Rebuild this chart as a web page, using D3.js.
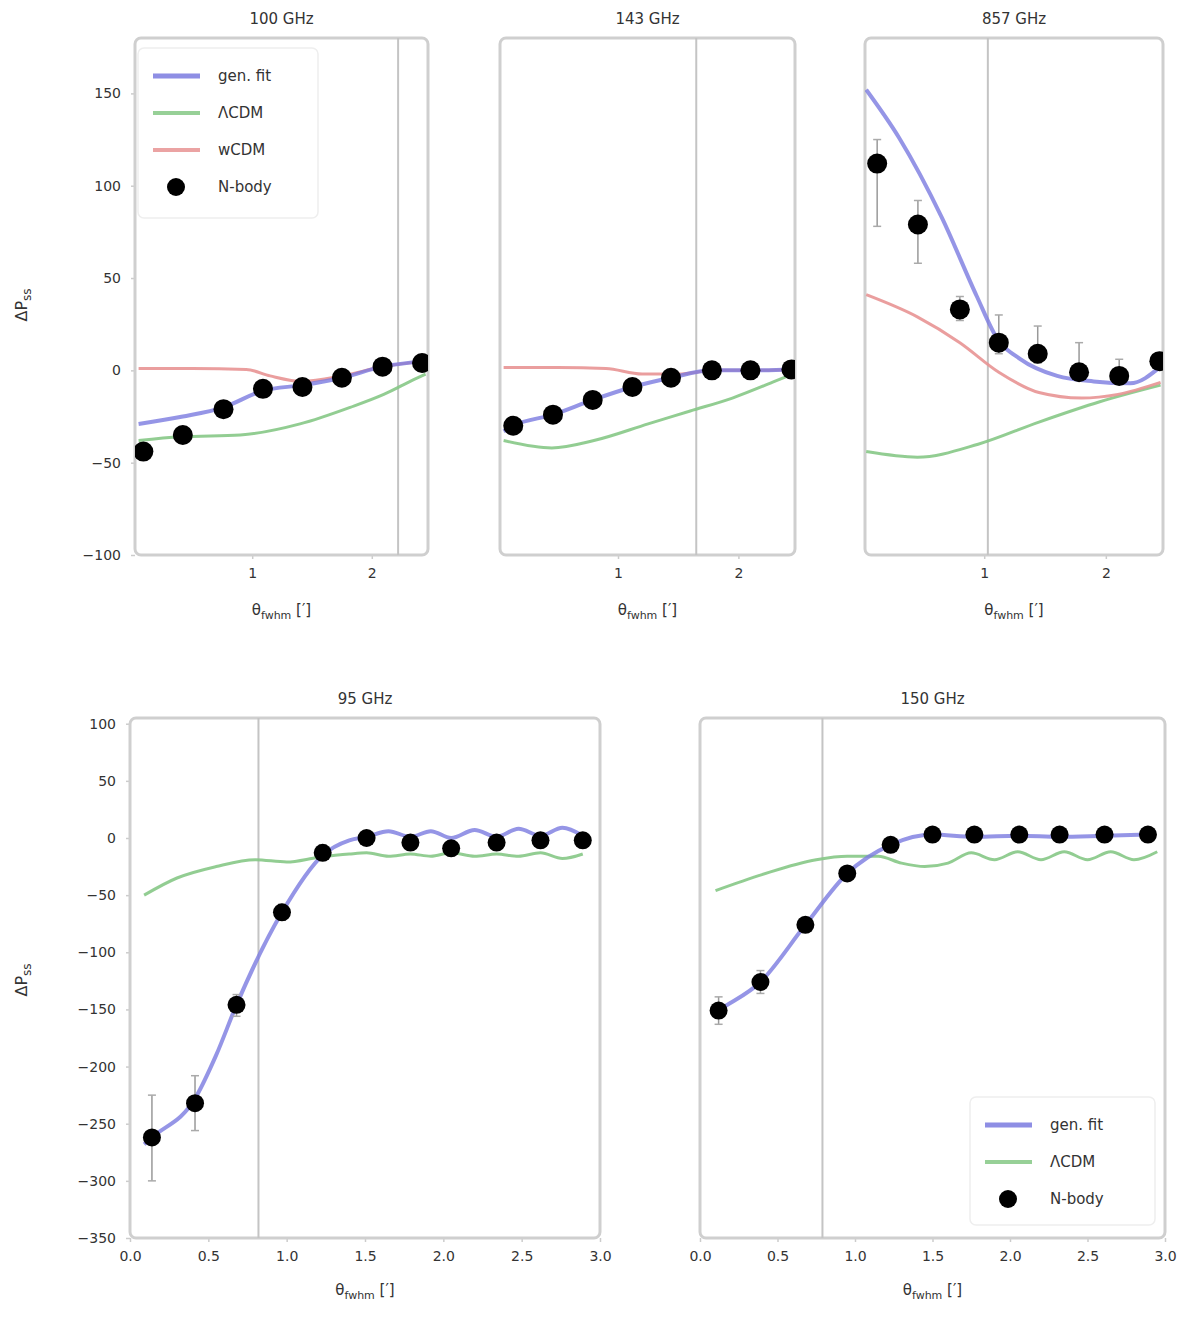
<!DOCTYPE html>
<html>
<head>
<meta charset="utf-8">
<script src="https://cdn.jsdelivr.net/npm/d3@7"></script>
<style>
  body { margin: 0; background: #fff; }
  text { font-family: "DejaVu Sans", sans-serif; fill: #333; }
</style>
</head>
<body>
<div class="chart"></div>
<script>
var svgWidth = 1200;
var svgHeight = 1320;

// ---- data ----
var seriesNames = ["gen. fit", "ΛCDM", "wCDM", "N-body"];
var panelTitles = ["100 GHz", "143 GHz", "857 GHz", "95 GHz", "150 GHz"];
var topYTicks = [150, 100, 50, 0, -50, -100];
var topXTicks = [1, 2];
var bottomYTicks = [100, 50, 0, -50, -100, -150, -200, -250, -300, -350];
var bottomXTicks = [0.0, 0.5, 1.0, 1.5, 2.0, 2.5, 3.0];
var cutX = [2.22, 1.65, 1.03, 0.82, 0.79];

// panel 1
var p1X = [0.09, 0.42, 0.76, 1.09, 1.42, 1.75, 2.09, 2.42];
var p1Y = [-44, -35, -21, -10, -9, -4, 2, 4];
var p1Lo = [-48, -38, -24, -13, -12, -7, -1, 1];
var p1Hi = [-40, -32, -18, -7, -6, -1, 5, 7];
var p1FitX = [0.05, 0.42, 0.76, 1.09, 1.42, 1.75, 2.09, 2.45];
var p1Fit = [-29, -25, -20, -11, -8, -4, 2, 5];
var p1LcdmX = [0.05, 0.4, 0.9, 1.4, 1.82, 2.1, 2.35, 2.45];
var p1Lcdm = [-38, -36, -35, -29, -20, -13, -5, -2];
var p1WX = [0.05, 0.5, 0.95, 1.15, 1.42, 1.75, 2.09, 2.45];
var p1W = [1, 1, 0.5, -3, -6, -3, 2, 5];

// panel 2
var p2X = [0.13, 0.46, 0.79, 1.12, 1.44, 1.78, 2.1, 2.44];
var p2Y = [-30, -24, -16, -9, -4, 0, 0, 0.5];
var p2Lo = [-33, -27, -19, -12, -7, -3, -3, -2.5];
var p2Hi = [-27, -21, -13, -6, -1, 3, 3, 3.5];
var p2FitX = [0.05, 0.13, 0.46, 0.79, 1.12, 1.44, 1.78, 2.1, 2.45];
var p2Fit = [-33, -30, -24, -16, -9, -4, 0, 0, 0.5];
var p2LcdmX = [0.05, 0.45, 0.8, 1.25, 1.6, 1.95, 2.3, 2.45];
var p2Lcdm = [-38, -42, -38, -29, -22, -15, -6, -2];
var p2WX = [0.05, 0.5, 0.9, 1.2, 1.5, 1.8, 2.1, 2.45];
var p2W = [1.5, 1.5, 1, -2, -2, 0, 0, 0.5];

// panel 3
var p3X = [0.12, 0.455, 0.8, 1.12, 1.44, 1.78, 2.11, 2.44];
var p3Y = [112, 79, 33, 15, 9, -1, -3, 5];
var p3Lo = [78, 58, 27, 9, 4, -5, -7, 1];
var p3Hi = [125, 92, 40, 30, 24, 15, 6, 9];
var p3FitX = [0.03, 0.3, 0.65, 0.94, 1.1, 1.3, 1.6, 1.9, 2.2, 2.45];
var p3Fit = [152, 126, 83, 40, 18, 6, -3, -6, -7, 2];
var p3LcdmX = [0.03, 0.45, 0.95, 1.45, 1.95, 2.45];
var p3Lcdm = [-44, -47, -40, -28, -17, -8];
var p3WX = [0.03, 0.45, 0.8, 1.12, 1.45, 1.8, 2.1, 2.45];
var p3W = [41, 29, 15, -1, -12, -15, -13, -6.5];

// panel 4
var p4X = [0.14, 0.415, 0.68, 0.97, 1.23, 1.51, 1.79, 2.05, 2.34, 2.62, 2.89];
var p4Y = [-262, -232, -146, -65, -13, 0, -4, -9, -4, -2, -2];
var p4Lo = [-300, -256, -156, -72, -18, -4, -8, -13, -8, -6, -6];
var p4Hi = [-225, -208, -137, -58, -6, 5, 0, -5, 0, 2, 2];
var p4FitX = [0.09, 0.14, 0.415, 0.55, 0.68, 0.97, 1.23, 1.4, 1.51, 1.65, 1.79, 1.92, 2.05, 2.2, 2.34, 2.48, 2.62, 2.76, 2.89];
var p4Fit = [-268, -262, -228, -190, -146, -65, -15, -2, 1, 6, 1, 6, 0, 7, 1, 8, 2, 9, 2];
var p4LcdmX = [0.09, 0.3, 0.55, 0.8, 1.0, 1.2, 1.4, 1.51, 1.65, 1.79, 1.92, 2.05, 2.2, 2.34, 2.48, 2.62, 2.76, 2.89];
var p4Lcdm = [-50, -35, -25, -19, -21, -17, -14, -13, -16, -14, -16, -13, -16, -14, -16, -13, -18, -14];

// panel 5
var p5X = [0.12, 0.39, 0.68, 0.95, 1.23, 1.5, 1.77, 2.06, 2.32, 2.61, 2.89];
var p5Y = [-151, -126, -76, -31, -6, 3, 3, 3, 3, 3, 3];
var p5Lo = [-163, -136, -82, -35, -9, 0, 0, 0, 0, 0, 0];
var p5Hi = [-139, -116, -70, -27, -3, 6, 6, 6, 6, 6, 6];
var p5FitX = [0.08, 0.12, 0.39, 0.68, 0.95, 1.23, 1.5, 1.77, 2.06, 2.32, 2.61, 2.89];
var p5Fit = [-155, -151, -126, -76, -31, -6, 3, 1, 2, 1, 2, 3];
var p5LcdmX = [0.1, 0.4, 0.75, 0.95, 1.15, 1.3, 1.45, 1.6, 1.75, 1.9, 2.05, 2.2, 2.35, 2.5, 2.65, 2.8, 2.95];
var p5Lcdm = [-46, -32, -19, -16, -16, -22, -25, -22, -13, -19, -12, -19, -12, -19, -12, -19, -12];

var colors = { fit: "#7b7be0", lcdm: "#86c886", w: "#e89494" };

var svg = d3.select(".chart")
  .append("svg")
  .attr("width", svgWidth)
  .attr("height", svgHeight);

var panels = [
  { box: [135, 38, 428, 555], xDom: [0.02, 2.47], yDom: [-100, 180], xTicks: topXTicks, yTicks: topYTicks,
    showY: true, title: panelTitles[0], cut: cutX[0],
    pts: [p1X, p1Y, p1Lo, p1Hi], fit: [p1FitX, p1Fit], lcdm: [p1LcdmX, p1Lcdm], w: [p1WX, p1W], r: 10 },
  { box: [500, 38, 795, 555], xDom: [0.02, 2.47], yDom: [-100, 180], xTicks: topXTicks, yTicks: topYTicks,
    showY: false, title: panelTitles[1], cut: cutX[1],
    pts: [p2X, p2Y, p2Lo, p2Hi], fit: [p2FitX, p2Fit], lcdm: [p2LcdmX, p2Lcdm], w: [p2WX, p2W], r: 10 },
  { box: [865, 38, 1163, 555], xDom: [0.02, 2.47], yDom: [-100, 180], xTicks: topXTicks, yTicks: topYTicks,
    showY: false, title: panelTitles[2], cut: cutX[2],
    pts: [p3X, p3Y, p3Lo, p3Hi], fit: [p3FitX, p3Fit], lcdm: [p3LcdmX, p3Lcdm], w: [p3WX, p3W], r: 10 },
  { box: [130, 718, 600, 1238], xDom: [0, 3], yDom: [-350, 105], xTicks: bottomXTicks, yTicks: bottomYTicks,
    showY: true, title: panelTitles[3], cut: cutX[3],
    pts: [p4X, p4Y, p4Lo, p4Hi], fit: [p4FitX, p4Fit], lcdm: [p4LcdmX, p4Lcdm], w: null, r: 9 },
  { box: [700, 718, 1165, 1238], xDom: [0, 3], yDom: [-350, 105], xTicks: bottomXTicks, yTicks: bottomYTicks,
    showY: false, title: panelTitles[4], cut: cutX[4],
    pts: [p5X, p5Y, p5Lo, p5Hi], fit: [p5FitX, p5Fit], lcdm: [p5LcdmX, p5Lcdm], w: null, r: 9 }
];

function zip(xs, ys) {
  return xs.map(function(x, i) { return [x, ys[i]]; });
}

panels.forEach(function(p, k) {
  var x = d3.scaleLinear().domain(p.xDom).range([p.box[0], p.box[2]]);
  var y = d3.scaleLinear().domain(p.yDom).range([p.box[3], p.box[1]]);
  var g = svg.append("g");
  var clipId = "clip" + k;

  g.append("clipPath").attr("id", clipId)
    .append("rect")
    .attr("x", p.box[0]).attr("y", p.box[1])
    .attr("width", p.box[2] - p.box[0]).attr("height", p.box[3] - p.box[1]);

  // axes (labels only, spines drawn as a frame)
  var isTop = k < 3;
  var fmt = isTop ? d3.format("d") : d3.format(".1f");
  g.append("g")
    .attr("transform", `translate(0, ${p.box[3]})`)
    .call(d3.axisBottom(x).tickValues(p.xTicks).tickFormat(fmt).tickSize(4).tickPadding(9));
  if (p.showY) {
    g.append("g")
      .attr("transform", `translate(${p.box[0]}, 0)`)
      .call(d3.axisLeft(y).tickValues(p.yTicks).tickFormat(d3.format("d")).tickSize(4).tickPadding(10));
  }
  g.selectAll(".domain").remove();
  g.selectAll(".tick line").attr("stroke", "#ccc").attr("stroke-width", 1.5);
  g.selectAll(".tick text").style("font-size", "14px").attr("fill", "#333");

  // frame
  g.append("rect")
    .attr("x", p.box[0]).attr("y", p.box[1])
    .attr("width", p.box[2] - p.box[0]).attr("height", p.box[3] - p.box[1])
    .attr("rx", 6)
    .attr("fill", "none")
    .attr("stroke", "#cfcfcf")
    .attr("stroke-width", 3);

  // cut line
  g.append("line")
    .attr("x1", x(p.cut)).attr("x2", x(p.cut))
    .attr("y1", p.box[1]).attr("y2", p.box[3])
    .attr("stroke", "#c4c4c4")
    .attr("stroke-width", 2);

  // title
  g.append("text")
    .attr("x", (p.box[0] + p.box[2]) / 2)
    .attr("y", p.box[1] - 14)
    .attr("text-anchor", "middle")
    .style("font-size", "15px")
    .text(p.title);

  // x label
  var xl = g.append("text")
    .attr("x", (p.box[0] + p.box[2]) / 2)
    .attr("y", p.box[3] + (isTop ? 60 : 57))
    .attr("text-anchor", "middle")
    .style("font-size", "15px");
  xl.append("tspan").text("θ");
  xl.append("tspan").attr("dy", 4).style("font-size", "11px").text("fwhm");
  xl.append("tspan").attr("dy", -4).text(" [′]");

  var plot = g.append("g").attr("clip-path", `url(#${clipId})`);
  var line = d3.line()
    .x(function(d) { return x(d[0]); })
    .y(function(d) { return y(d[1]); })
    .curve(d3.curveMonotoneX);

  plot.append("path").datum(zip(p.lcdm[0], p.lcdm[1]))
    .attr("d", line).attr("fill", "none")
    .attr("stroke", colors.lcdm).attr("stroke-width", 3).attr("opacity", 0.9);
  if (p.w) {
    plot.append("path").datum(zip(p.w[0], p.w[1]))
      .attr("d", line).attr("fill", "none")
      .attr("stroke", colors.w).attr("stroke-width", 3).attr("opacity", 0.9);
  }
  plot.append("path").datum(zip(p.fit[0], p.fit[1]))
    .attr("d", line).attr("fill", "none")
    .attr("stroke", colors.fit).attr("stroke-width", 4).attr("opacity", 0.8);

  // error bars
  var pts = p.pts[0].map(function(v, i) {
    return { x: v, y: p.pts[1][i], lo: p.pts[2][i], hi: p.pts[3][i] };
  });
  var eb = plot.selectAll(".eb").data(pts).enter().append("g");
  eb.append("line")
    .attr("x1", function(d) { return x(d.x); }).attr("x2", function(d) { return x(d.x); })
    .attr("y1", function(d) { return y(d.lo); }).attr("y2", function(d) { return y(d.hi); })
    .attr("stroke", "#999").attr("stroke-width", 1.5);
  ["lo", "hi"].forEach(function(end) {
    eb.append("line")
      .attr("x1", function(d) { return x(d.x) - 4; }).attr("x2", function(d) { return x(d.x) + 4; })
      .attr("y1", function(d) { return y(d[end]); }).attr("y2", function(d) { return y(d[end]); })
      .attr("stroke", "#aaa").attr("stroke-width", 1.5);
  });

  plot.selectAll("circle").data(pts).enter().append("circle")
    .attr("cx", function(d) { return x(d.x); })
    .attr("cy", function(d) { return y(d.y); })
    .attr("r", p.r)
    .attr("fill", "#000");
});

// y labels
[[27, 305], [27, 980]].forEach(function(pos) {
  var t = svg.append("text")
    .attr("transform", `translate(${pos[0]}, ${pos[1]}) rotate(-90)`)
    .attr("text-anchor", "middle")
    .style("font-size", "16px");
  t.append("tspan").text("ΔP");
  t.append("tspan").attr("dy", 4).style("font-size", "12px").text("ss");
});

// legends
function legend(x0, y0, entries, w, h) {
  var lg = svg.append("g").attr("transform", `translate(${x0}, ${y0})`);
  lg.append("rect")
    .attr("x", 0).attr("y", 0).attr("width", w).attr("height", h)
    .attr("rx", 6).attr("fill", "#fff").attr("stroke", "#eee").attr("stroke-width", 1.5);
  entries.forEach(function(e, i) {
    var yy = 28 + i * 37;
    if (e.type === "line") {
      lg.append("line")
        .attr("x1", 15).attr("x2", 62).attr("y1", yy).attr("y2", yy)
        .attr("stroke", e.color).attr("stroke-width", e.width).attr("opacity", 0.85);
    } else {
      lg.append("circle").attr("cx", 38).attr("cy", yy).attr("r", 9).attr("fill", "#000");
    }
    lg.append("text")
      .attr("x", 80).attr("y", yy + 5)
      .style("font-size", "15px")
      .text(e.name);
  });
}

legend(138, 48, [
  { type: "line", color: colors.fit, width: 5, name: seriesNames[0] },
  { type: "line", color: colors.lcdm, width: 4, name: seriesNames[1] },
  { type: "line", color: colors.w, width: 4, name: seriesNames[2] },
  { type: "dot", name: seriesNames[3] }
], 180, 170);

legend(970, 1097, [
  { type: "line", color: colors.fit, width: 5, name: seriesNames[0] },
  { type: "line", color: colors.lcdm, width: 4, name: seriesNames[1] },
  { type: "dot", name: seriesNames[3] }
], 185, 128);
</script>
</body>
</html>
